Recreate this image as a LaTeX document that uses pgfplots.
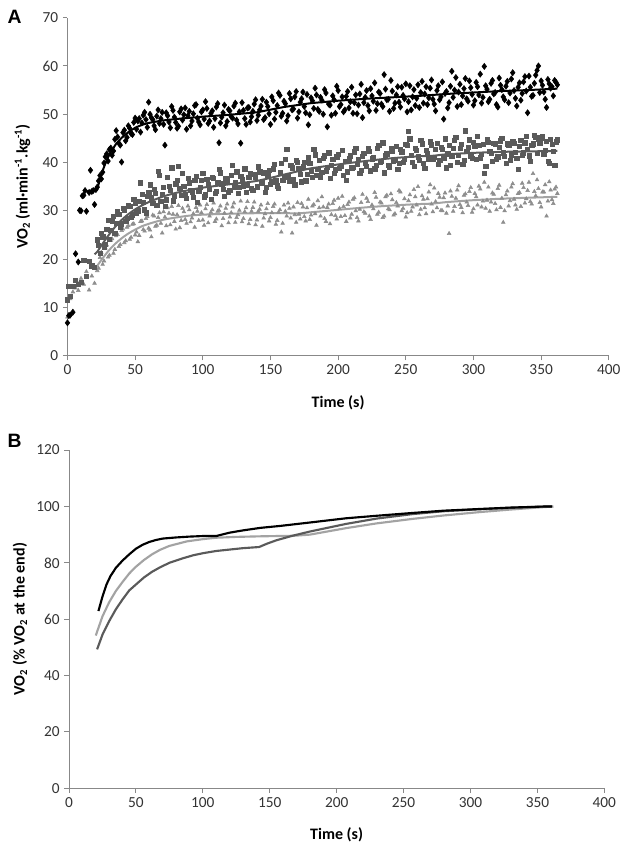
\documentclass[border=0pt]{standalone}
\usepackage{fontspec}
\setmainfont{Carlito}
\newfontfamily\arialfont{Liberation Sans}
\usepackage{pgfplots}
\usepackage{pgfplotstable}
\pgfplotsset{compat=1.18}
\definecolor{axisgray}{HTML}{888888}
\definecolor{darkgr}{HTML}{5A5A5A}
\definecolor{lightgr}{HTML}{A3A3A3}
\definecolor{trigray}{HTML}{8E8E8E}

\pgfplotstableread{
t b d l
0 6.8 11.6 8.0
1 8.3 14.4 12.1
2 8.4 12.3 11.8
4 9.0 14.3 13.2
6 21.1 15.6 14.0
8 19.4 14.8 13.5
9 30.1 nan 15.2
10 30.0 15.2 16.0
11 33.1 nan nan
12 33.2 19.8 14.8
13 34.2 nan nan
14 29.9 16.5 17.4
16 33.8 19.5 13.6
17 38.4 nan nan
18 34.0 18.6 16.5
19 34.2 nan nan
20 31.3 18.3 15.0
21 34.4 nan nan
22 34.9 24.0 17.6
24 37.3 21.2 20.3
26 38.0 24.6 18.9
28 41.2 23.1 22.3
30 40.3 28.1 20.4
32 43.0 26.0 23.9
34 42.4 28.9 21.2
36 46.6 27.4 24.8
38 44.0 29.3 22.6
40 40.1 27.3 25.9
42 46.7 30.2 23.4
44 45.2 28.4 26.6
46 47.1 31.0 24.1
48 45.8 29.2 27.2
50 49.2 31.6 25.0
52 48.6 30.0 23.6
54 46.3 35.8 27.8
56 49.8 31.8 26.1
58 48.9 29.6 28.4
60 52.5 33.9 26.4
62 49.3 32.7 24.6
64 47.6 34.4 28.9
66 49.6 31.2 27.0
68 48.1 37.4 29.6
70 50.4 33.5 25.4
72 43.6 31.0 28.7
74 49.7 36.9 30.6
76 47.2 34.2 27.1
78 50.8 32.1 29.3
80 48.3 35.6 26.2
82 47.5 39.2 31.1
84 51.1 33.2 28.0
86 49.9 35.1 29.8
88 46.9 32.6 27.4
90 50.6 35.8 30.2
92 48.6 33.9 28.5
94 51.8 36.4 26.6
96 49.2 31.7 29.9
98 47.8 34.9 31.2
100 50.9 37.8 28.1
102 52.6 33.3 30.4
104 48.1 35.4 27.5
106 50.2 32.4 29.7
108 47.3 36.8 31.6
110 51.5 34.1 28.3
112 44.1 38.6 30.1
114 49.4 35.6 26.9
116 51.9 33.0 29.5
118 48.5 36.2 31.4
120 50.7 34.3 28.7
122 49.2 39.4 30.8
124 52.3 35.9 27.6
126 48.0 33.6 29.2
128 44.0 37.1 32.0
130 50.8 35.2 28.4
132 47.9 33.8 30.6
134 51.4 36.9 27.3
136 49.5 34.7 29.9
138 52.1 37.5 31.8
140 48.7 35.0 28.1
142 50.9 38.1 30.3
144 53.1 36.0 26.8
146 49.3 33.9 29.4
148 51.6 37.3 31.5
150 47.9 35.5 28.6
152 52.8 38.7 30.9
154 50.4 36.4 27.2
156 54.4 34.6 29.7
158 49.6 39.8 25.6
160 52.7 37.0 31.2
162 48.6 42.7 28.9
164 54.3 36.1 30.5
166 50.9 38.9 25.4
168 53.6 35.4 29.2
170 49.2 40.1 31.7
172 52.5 37.6 28.3
174 54.6 39.3 30.8
176 50.3 36.2 27.9
178 47.8 41.0 32.4
180 53.4 38.2 29.1
182 51.2 42.8 31.3
184 54.0 37.4 27.0
186 50.6 40.5 30.6
188 52.9 38.0 32.9
190 55.1 41.4 28.4
192 47.4 39.0 30.7
194 51.9 36.8 27.3
196 53.8 40.6 31.5
198 50.2 38.5 29.0
200 54.9 41.7 32.6
202 52.0 39.2 28.8
204 50.5 37.3 30.9
206 53.7 36.4 27.8
208 51.3 40.8 31.8
210 55.6 38.9 29.3
212 52.4 42.2 32.7
214 50.1 39.6 28.6
216 54.2 37.8 30.3
218 49.3 41.3 33.4
220 53.5 39.9 29.5
222 51.8 42.9 31.9
224 55.3 38.3 28.2
226 52.7 41.1 30.4
228 50.8 39.4 32.8
230 54.6 43.5 29.7
232 52.1 40.2 31.6
234 58.2 37.9 28.9
236 53.0 41.8 33.2
238 50.6 39.1 30.2
240 54.8 42.4 32.3
242 52.3 40.5 29.4
244 55.7 38.6 31.0
246 51.5 42.7 33.9
248 53.9 40.0 30.5
250 56.3 43.8 28.7
252 52.6 46.4 32.1
254 50.9 41.5 29.9
256 55.1 39.3 34.4
258 53.3 42.6 31.2
260 51.4 40.4 29.2
262 56.8 43.9 33.1
264 54.2 38.8 30.6
266 52.0 41.9 32.5
268 55.4 44.3 35.4
270 53.1 40.7 29.8
272 50.7 42.8 31.9
274 55.9 39.6 33.6
276 53.6 43.2 30.1
278 49.0 41.0 32.7
280 54.7 38.9 29.5
282 52.4 43.5 25.3
284 58.9 41.4 33.0
286 55.0 44.6 30.9
288 51.6 40.1 34.3
290 56.2 42.9 31.3
292 53.8 39.7 29.6
294 57.4 46.6 33.5
296 52.7 43.1 31.1
298 55.5 41.3 34.8
300 51.9 44.2 30.4
302 56.6 40.6 32.9
304 54.0 43.6 35.1
306 52.3 41.7 30.8
308 59.9 37.7 35.9
310 55.2 44.8 32.2
312 53.1 42.4 29.9
314 57.0 40.3 33.7
316 54.5 43.9 31.5
318 51.5 41.2 34.6
320 56.0 44.5 30.7
322 53.6 42.0 27.6
324 55.8 39.8 33.3
326 52.4 43.7 31.0
328 57.3 41.6 34.9
330 54.9 44.0 32.4
332 51.7 40.9 30.3
334 56.5 43.4 33.8
336 54.3 41.5 35.7
338 57.8 44.1 31.6
340 50.3 42.8 34.2
342 55.6 40.2 31.9
344 53.9 43.9 37.7
346 58.1 45.3 33.1
348 60.0 44.9 34.6
350 56.9 45.1 30.8
352 54.6 41.8 33.9
354 51.4 44.4 28.9
356 56.3 39.9 36.0
358 55.7 43.8 32.3
360 57.0 39.5 34.5
362 56.1 44.7 33.6
23 36.2 22.8 18.1
25 36.6 25.3 21.4
27 39.9 22.4 19.6
29 41.8 26.2 22.9
31 42.7 24.1 20.8
33 41.5 27.8 24.2
35 44.8 25.4 22.0
37 45.3 29.9 25.1
39 43.6 26.7 23.0
41 46.2 30.5 26.2
43 44.5 27.9 23.8
45 47.6 31.2 26.9
47 46.0 28.6 24.5
49 48.3 32.4 27.3
51 46.9 29.5 25.6
53 49.1 32.0 24.9
55 48.2 33.5 27.9
57 50.4 30.2 25.8
59 47.3 33.0 28.8
61 50.0 35.4 26.0
63 48.9 31.5 29.1
65 46.8 33.7 26.8
67 50.9 38.2 28.6
69 49.1 32.0 27.4
71 47.9 34.9 29.8
73 50.3 32.3 26.9
75 48.4 35.1 29.5
77 51.6 38.9 30.9
79 49.4 33.0 27.8
81 47.1 36.3 29.2
83 50.5 34.6 26.5
85 48.8 37.7 30.5
87 51.3 33.4 28.2
89 49.7 36.7 31.0
91 47.6 34.2 27.7
93 50.1 32.8 29.4
95 52.0 37.2 30.7
97 48.4 34.0 28.0
99 50.5 36.3 29.6
101 49.0 32.9 27.0
103 51.2 36.6 31.3
105 48.6 34.4 28.9
107 50.7 37.0 30.2
109 49.1 33.7 27.8
111 52.2 35.9 29.9
113 48.2 37.9 31.0
115 50.3 34.5 28.4
117 47.6 36.7 30.5
119 51.0 33.9 27.5
121 49.5 37.3 29.6
123 51.7 35.0 31.6
125 48.8 38.1 28.6
127 50.5 34.9 30.1
129 52.4 36.5 27.7
131 49.1 38.7 29.8
133 51.3 35.3 31.9
135 48.4 37.8 28.2
137 50.6 34.3 30.7
139 53.0 36.9 27.1
141 49.8 39.1 29.9
143 51.7 35.7 31.2
145 48.9 37.9 28.5
147 52.5 34.8 30.4
149 50.1 38.4 27.9
151 53.6 36.0 29.6
153 49.0 39.6 31.4
155 51.8 35.2 28.0
157 53.9 38.0 30.2
159 50.2 36.3 27.4
161 52.2 40.7 29.9
163 49.7 37.1 31.6
165 53.2 39.5 28.5
167 51.1 36.6 30.8
169 54.7 40.4 27.6
171 50.5 38.7 29.3
173 53.2 36.0 31.5
175 51.6 40.0 28.8
177 54.1 37.5 30.6
179 49.9 39.9 28.2
181 52.8 37.0 31.0
183 55.4 41.6 29.4
185 51.0 38.6 32.1
187 53.5 36.9 28.9
189 50.0 40.9 30.8
191 54.4 38.3 27.8
193 52.1 42.0 31.4
195 49.8 39.5 29.2
197 53.0 37.7 32.2
199 55.8 41.2 28.3
201 51.6 38.8 30.5
203 53.6 42.6 33.0
205 50.9 40.3 29.0
207 54.7 38.1 31.3
209 52.6 41.4 28.5
211 50.2 39.0 32.4
213 54.0 43.0 30.0
215 51.9 40.6 27.9
217 56.2 38.4 31.7
219 52.4 41.9 29.8
221 54.9 39.3 32.6
223 50.7 42.3 28.9
225 53.8 40.8 31.2
227 56.5 38.7 33.8
229 52.2 42.9 29.3
231 54.3 40.0 31.8
233 51.6 44.1 28.6
235 55.2 41.5 32.9
237 53.1 39.5 30.4
239 57.0 42.9 33.5
241 51.2 40.3 29.1
243 54.0 43.4 31.7
245 52.5 39.8 34.2
247 55.6 42.2 30.0
249 53.2 40.7 32.5
251 50.5 43.6 29.6
253 55.9 44.9 33.3
255 53.6 40.0 30.8
257 51.8 42.9 32.9
259 56.1 41.2 35.0
261 54.5 44.6 30.3
263 52.3 39.9 32.4
265 55.7 42.5 29.4
267 53.4 40.8 33.9
269 57.1 43.7 31.4
271 52.1 41.1 34.7
273 54.9 44.0 30.6
275 53.0 40.4 32.8
277 56.7 42.7 30.0
279 54.3 44.9 33.7
281 51.3 41.8 31.0
283 55.8 39.4 34.1
285 53.5 43.0 29.9
287 57.6 45.2 32.6
289 54.6 41.5 35.2
291 52.0 43.8 30.7
293 55.3 40.5 33.2
295 53.2 42.4 31.8
297 56.9 44.7 34.0
299 54.1 40.9 29.7
301 52.8 43.3 33.6
303 55.7 45.5 31.2
305 58.3 41.0 34.5
307 53.5 43.8 32.0
309 55.9 39.2 30.5
311 52.6 44.2 34.9
313 56.4 41.9 31.8
315 54.2 44.0 33.4
317 52.0 40.7 30.2
319 57.5 43.1 35.3
321 55.1 45.0 32.6
323 53.0 41.3 30.0
325 56.8 43.9 34.1
327 54.4 40.5 32.1
329 58.6 44.3 35.6
331 53.3 42.1 31.2
333 55.6 38.6 33.6
335 52.9 44.6 30.9
337 56.7 42.0 34.8
339 54.8 45.4 32.5
341 57.9 41.4 35.9
343 53.7 43.5 31.4
345 56.4 45.6 34.0
347 59.1 41.9 36.4
349 54.5 44.0 31.7
351 56.0 45.5 33.9
353 53.1 42.6 35.4
355 57.2 40.3 32.0
357 55.4 44.8 34.3
359 53.8 42.3 31.5
361 56.6 44.3 34.9
}\scatterdata

\pgfplotsset{
  mystyle/.style={
    scale only axis,
    axis lines=left,
    axis line style={axisgray, line width=0.7pt, -},
    tick style={axisgray, line width=0.7pt},
    tick align=outside,
    major tick length=3.5pt,
    xmin=0, xmax=400, xtick={0,50,...,400},
    ymin=0,
    /pgf/number format/assume math mode=true,
    ticklabel style={font=\fontsize{11.5}{13}\selectfont, text=black!80},
    label style={font=\bfseries\fontsize{12}{14}\selectfont},
    xlabel style={anchor=center},
    ylabel style={anchor=center, rotate=0},
    clip=false,
  }
}

\begin{document}
\begin{tikzpicture}
\path[use as bounding box] (0,0) rectangle (472.5pt,635.25pt);
\node[font=\arialfont\bfseries\fontsize{14.5}{16}\selectfont, anchor=center] at (10.9pt,622.9pt) {A};
\node[font=\arialfont\bfseries\fontsize{14.5}{16}\selectfont, anchor=center] at (10.9pt,304.5pt) {B};

\begin{axis}[mystyle,
  at={(50.6pt,368.5pt)}, anchor=south west,
  width=406pt, height=253.5pt,
  ymax=70, ytick={0,10,...,70},
  xlabel={Time (s)},
  ylabel={VO\textsubscript{2} (ml·min\textsuperscript{-1}.kg\textsuperscript{-1})},
  xlabel style={at={(axis description cs:0.5,-0.138)}},
  ylabel style={at={(axis description cs:-0.083,0.5)}},
]
\addplot[only marks, mark=triangle*, mark size=1.6pt, color=trigray] table[x=t, y=l] {\scatterdata};
\addplot[only marks, mark=square*, mark size=1.6pt, color=darkgr] table[x=t, y=d] {\scatterdata};
\addplot[only marks, mark=diamond*, mark size=2.3pt, color=black] table[x=t, y=b] {\scatterdata};
\addplot[lightgr, line width=1.5pt, smooth, no marks] coordinates {
(20,17.8) (22,18.6) (25,19.8) (30,21.6) (35,23.1) (40,24.3) (45,25.3) (50,26.1) (55,26.8) (60,27.3) (70,28.1) (80,28.6) (90,29.0) (100,29.2) (120,29.4) (140,29.5) (160,29.5) (172,29.5) (180,29.7) (200,30.2) (220,30.7) (240,31.1) (260,31.4) (270,31.5) (280,31.8) (300,32.2) (320,32.5) (340,32.7) (362,32.9)};
\addplot[darkgr, line width=1.5pt, smooth, no marks] coordinates {
(20,21.0) (22,21.5) (25,22.8) (30,24.8) (35,26.6) (40,28.1) (45,29.3) (50,30.3) (55,31.1) (60,31.8) (70,32.9) (80,33.7) (90,34.3) (100,34.8) (120,35.5) (140,36.2) (160,37.5) (172,38.3) (180,38.8) (200,39.6) (220,40.3) (240,40.9) (260,41.3) (270,41.4) (280,41.7) (300,42.0) (320,42.2) (340,42.3) (362,42.4)};
\addplot[black, line width=1.5pt, no marks] coordinates {
(14,34.0) (18,34.2) (22,34.5) (24,36.5) (26,38.3) (28,39.8) (30,41.1) (33,42.6) (36,43.9) (40,45.1) (45,46.3) (50,47.2) (55,47.8) (60,48.2) (70,48.7) (80,49.0) (100,49.5) (120,49.9) (140,50.4) (160,51.5) (180,52.3) (200,52.8) (220,53.2) (240,53.5) (260,53.8) (280,54.2) (300,54.5) (320,54.8) (340,55.0) (362,55.3)};
\end{axis}

\begin{axis}[mystyle,
  at={(51.75pt,44.0pt)}, anchor=south west,
  width=401.5pt, height=253.7pt,
  ymax=120, ytick={0,20,...,120},
  xlabel={Time (s)},
  ylabel={VO\textsubscript{2} (\% VO\textsubscript{2} at the end)},
  xlabel style={at={(axis description cs:0.5,-0.138)}},
  ylabel style={at={(axis description cs:-0.0915,0.5)}},
]
\addplot[lightgr, line width=1.6pt, no marks] coordinates {
(20,54.2) (25,61) (30,66) (35,70) (40,73.2) (45,76.2) (50,78.6) (56,81) (62,83) (68,84.6) (75,86) (88,87.6) (100,88.4) (110,88.9) (125,89.2) (143,89.4) (168,89.6) (180,90.0) (207,92.3) (230,94.0) (257,95.6) (280,96.8) (307,98.0) (330,98.9) (350,99.6) (362,100)};
\addplot[darkgr, line width=1.6pt, no marks] coordinates {
(21,49.3) (25,54.5) (30,59.3) (35,63.5) (40,67.0) (45,70.2) (50,72.3) (56,74.8) (62,76.8) (68,78.4) (75,80.0) (85,81.6) (93,82.7) (100,83.4) (110,84.2) (120,84.7) (130,85.2) (142,85.6) (148,86.8) (155,88.0) (167,89.6) (180,91.1) (195,92.6) (207,93.8) (230,95.7) (257,97.3) (280,98.3) (307,99.0) (330,99.5) (357,100) (361,100)};
\addplot[black, line width=1.6pt, no marks] coordinates {
(22,62.9) (25,68) (28,72.3) (31,75.3) (35,78.2) (40,80.8) (45,83.0) (50,85.0) (55,86.4) (60,87.4) (65,88.1) (70,88.6) (80,89.0) (90,89.3) (100,89.5) (110,89.5) (115,90.1) (120,90.7) (130,91.5) (143,92.4) (158,93.1) (180,94.3) (207,95.8) (230,96.7) (257,97.7) (280,98.5) (307,99.1) (330,99.6) (357,100) (361,100)};
\end{axis}
\end{tikzpicture}
\end{document}
